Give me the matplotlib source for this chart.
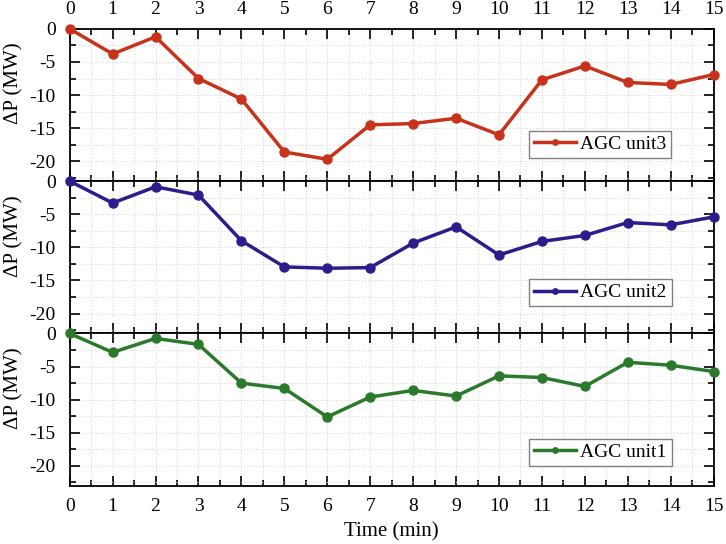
import numpy as np
import matplotlib
matplotlib.use('Agg')
import matplotlib.pyplot as plt
from matplotlib.ticker import MultipleLocator

plt.rcParams['font.family'] = ['Liberation Serif', 'DejaVu Serif']
plt.rcParams['axes.unicode_minus'] = False
plt.rcParams['font.size'] = 14

# Datos
time_min = list(range(16))
unit3 = [0, -3.8, -1.2, -7.5, -10.6, -18.6, -19.7, -14.5, -14.3, -13.5,
         -16.0, -7.7, -5.6, -8.1, -8.4, -6.9]
unit2 = [0, -3.3, -0.85, -2.1, -9.0, -12.95, -13.15, -13.05, -9.35, -6.9,
         -11.15, -9.1, -8.2, -6.25, -6.6, -5.4]
unit1 = [0, -2.85, -0.75, -1.65, -7.5, -8.3, -12.6, -9.6, -8.6, -9.45,
         -6.4, -6.65, -8.0, -4.35, -4.8, -5.75]

series = [
    ('AGC unit3', unit3, '#c9321a', 0.151),
    ('AGC unit2', unit2, '#2f1b8a', 0.178),
    ('AGC unit1', unit1, '#2b7a2b', 0.13),
]

fig, axes = plt.subplots(3, 1, figsize=(7.26, 5.44), dpi=100, sharex=True)
fig.subplots_adjust(left=0.096, right=0.983, top=0.947, bottom=0.107, hspace=0)

for i, (label, values, color, leg_y) in enumerate(series):
    ax = axes[i]
    ax.plot(time_min, values, '-o', color=color, lw=2.5, ms=6.5, label=label,
            clip_on=False, zorder=3)
    ax.set_xlim(0, 15)
    ax.set_ylim(-23, 0)
    ax.xaxis.set_major_locator(MultipleLocator(1))
    ax.xaxis.set_minor_locator(MultipleLocator(0.5))
    ax.yaxis.set_major_locator(MultipleLocator(5))
    ax.yaxis.set_minor_locator(MultipleLocator(2.5))
    ax.grid(which='both', color='#d9d9d9', linestyle=':', linewidth=0.8)
    ax.tick_params(which='both', direction='in', top=True, right=True,
                   width=1.2, labelsize=14)
    ax.tick_params(which='major', length=7)
    ax.tick_params(which='minor', length=4)
    ax.tick_params(axis='y', pad=10)
    ax.tick_params(axis='x', pad=9)
    for sp in ax.spines.values():
        sp.set_linewidth(1.3)
    ax.set_ylabel('ΔP (MW)', fontsize=15)
    ax.yaxis.set_label_coords(-0.071, 0.64)
    leg = ax.legend(loc='lower left', bbox_to_anchor=(0.713, leg_y),
                    borderaxespad=0, fancybox=False, edgecolor='#808080',
                    framealpha=1, handlelength=2.2, markerscale=0.6,
                    fontsize=14, borderpad=0.25, handletextpad=0.2)
    leg.get_frame().set_linewidth(1.0)

axes[0].tick_params(labeltop=True, labelbottom=False)
axes[0].tick_params(axis='x', pad=8)
axes[2].set_xlabel('Time (min)', fontsize=15, labelpad=5)

fig.savefig('out.png', dpi=100)
